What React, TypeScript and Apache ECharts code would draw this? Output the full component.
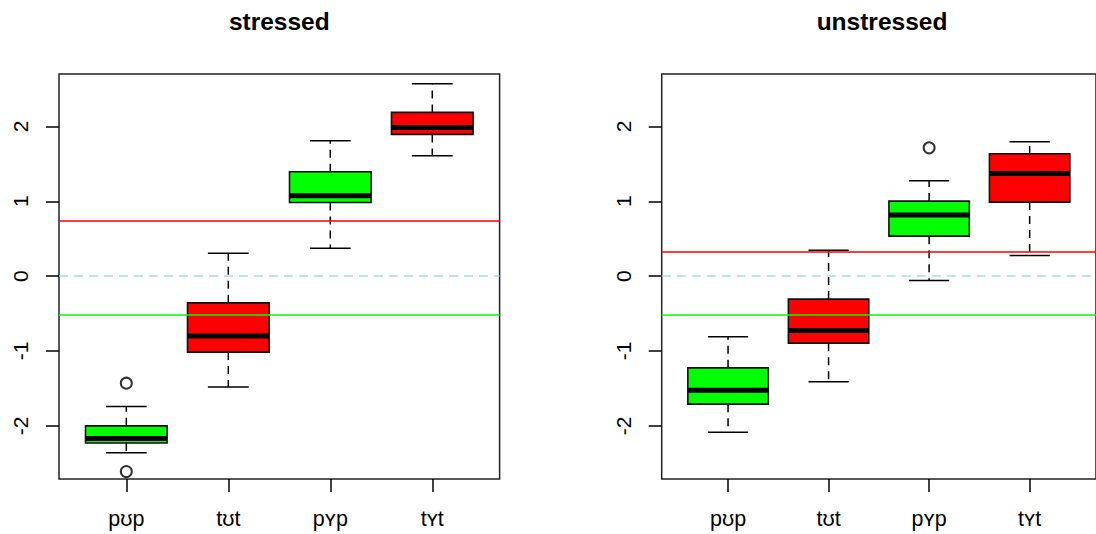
import React, { useEffect, useRef } from "react";
import * as echarts from "echarts";

const categories = ["pʊp", "tʊt", "pʏp", "tʏt"];
const boxColors = ["#00ff00", "#ff0000", "#00ff00", "#ff0000"];
const yTicks = [-2, -1, 0, 1, 2];

// [x, lowerWhisker, Q1, median, Q3, upperWhisker]
const stressedBoxes = [
  [1, -2.36, -2.23, -2.17, -2.0, -1.74],
  [2, -1.48, -1.015, -0.8, -0.357, 0.307],
  [3, 0.374, 0.984, 1.073, 1.394, 1.81],
  [4, 1.607, 1.893, 1.986, 2.187, 2.57],
];
const stressedOutliers = [
  [1, -1.43],
  [1, -2.61],
];
const stressedRed = 0.739;
const stressedGreen = -0.508;

const unstressedBoxes = [
  [1, -2.084, -1.71, -1.523, -1.225, -0.81],
  [2, -1.41, -0.895, -0.726, -0.307, 0.347],
  [3, -0.058, 0.534, 0.815, 1.002, 1.274],
  [4, 0.276, 0.989, 1.372, 1.634, 1.795],
];
const unstressedOutliers = [[3, 1.714]];
const unstressedRed = 0.32;
const unstressedGreen = -0.517;

const titles = ["stressed", "unstressed"];

const FONT = '"Liberation Sans", Arial, Helvetica, sans-serif';

function renderBox(params: any, api: any) {
  const x = api.value(0);
  const lo = api.value(1);
  const q1 = api.value(2);
  const med = api.value(3);
  const q3 = api.value(4);
  const hi = api.value(5);
  const pLo = api.coord([x, lo]);
  const pQ1 = api.coord([x, q1]);
  const pMed = api.coord([x, med]);
  const pQ3 = api.coord([x, q3]);
  const pHi = api.coord([x, hi]);
  const half = api.size([0.8, 0])[0] / 2;
  const capHalf = half / 2;
  const cx = pMed[0];
  const fill = boxColors[params.dataIndex];
  const dashed = { stroke: "#000", lineWidth: 1.5, lineDash: [8, 6] };
  const solid = { stroke: "#000", lineWidth: 1.5 };
  return {
    type: "group",
    children: [
      { type: "line", shape: { x1: cx, y1: pQ3[1], x2: cx, y2: pHi[1] }, style: dashed },
      { type: "line", shape: { x1: cx, y1: pQ1[1], x2: cx, y2: pLo[1] }, style: dashed },
      { type: "line", shape: { x1: cx - capHalf, y1: pHi[1], x2: cx + capHalf, y2: pHi[1] }, style: solid },
      { type: "line", shape: { x1: cx - capHalf, y1: pLo[1], x2: cx + capHalf, y2: pLo[1] }, style: solid },
      {
        type: "rect",
        shape: { x: cx - half, y: pQ3[1], width: half * 2, height: pQ1[1] - pQ3[1] },
        style: { fill, stroke: "#111", lineWidth: 1.6 },
      },
      { type: "line", shape: { x1: cx - half, y1: pMed[1], x2: cx + half, y2: pMed[1] }, style: { stroke: "#000", lineWidth: 5 } },
    ],
  };
}

const GRID_W = 440.6;
const GRID_LEFTS = [59, 661.7];

function buildOption() {
  const panels = [
    { boxes: stressedBoxes, outliers: stressedOutliers, red: stressedRed, green: stressedGreen },
    { boxes: unstressedBoxes, outliers: unstressedOutliers, red: unstressedRed, green: unstressedGreen },
  ];
  const grid = GRID_LEFTS.map((left) => ({
    left,
    top: 74,
    width: GRID_W,
    height: 405,
    show: true,
    borderColor: "#222",
    borderWidth: 1.5,
    backgroundColor: "transparent",
  }));
  const xAxis = panels.map((_, i) => ({
    type: "value",
    gridIndex: i,
    position: "bottom",
    min: 0.34,
    max: 4.66,
    axisLine: { show: false, onZero: false },
    splitLine: { show: false },
    axisTick: {
      show: true,
      customValues: [1, 2, 3, 4],
      length: 13,
      lineStyle: { color: "#000", width: 1.5 },
    },
    axisLabel: {
      customValues: [1, 2, 3, 4],
      formatter: (v: number) => categories[Math.round(v) - 1] ?? "",
      fontSize: 21.5,
      fontFamily: FONT,
      color: "#000",
      margin: 29,
    },
  }));
  const yAxis = panels.map((_, i) => ({
    type: "value",
    gridIndex: i,
    position: "left",
    min: -2.71,
    max: 2.7,
    axisLine: { show: false, onZero: false },
    splitLine: { show: false },
    axisTick: {
      show: true,
      customValues: yTicks,
      length: 13,
      lineStyle: { color: "#000", width: 1.5 },
    },
    axisLabel: {
      customValues: yTicks,
      rotate: 90,
      fontSize: 21,
      fontFamily: FONT,
      color: "#000",
      margin: 28,
    },
  }));
  const series: any[] = [];
  panels.forEach((p, i) => {
    series.push({
      type: "custom",
      xAxisIndex: i,
      yAxisIndex: i,
      renderItem: renderBox,
      encode: { x: 0, y: [1, 2, 3, 4, 5] },
      data: p.boxes,
      z: 2,
      silent: true,
    });
    series.push({
      type: "scatter",
      xAxisIndex: i,
      yAxisIndex: i,
      data: p.outliers,
      symbol: "emptyCircle",
      symbolSize: 11,
      itemStyle: { color: "#000", borderColor: "#000", borderWidth: 1.4 },
      z: 5,
      silent: true,
      markLine: {
        silent: true,
        symbol: ["none", "none"],
        label: { show: false },
        animation: false,
        data: [
          { yAxis: p.red, lineStyle: { color: "#ff0000", width: 1.5, type: "solid" } },
          { yAxis: p.green, lineStyle: { color: "#00ff00", width: 1.5, type: "solid" } },
          { yAxis: 0, lineStyle: { color: "#add8e6", width: 1.5, type: [9, 6] } },
        ],
      },
    });
  });
  const graphic = titles.map((t, i) => ({
    type: "text",
    x: GRID_LEFTS[i] + GRID_W / 2,
    y: 21,
    style: {
      text: t,
      font: `bold 24.5px ${FONT}`,
      fill: "#000",
      textAlign: "center",
      textVerticalAlign: "middle",
    },
  }));
  return {
    animation: false,
    backgroundColor: "#fff",
    grid,
    xAxis,
    yAxis,
    series,
    graphic,
  };
}

export default function App() {
  const ref = useRef<HTMLDivElement>(null);
  useEffect(() => {
    if (!ref.current) return;
    const chart = echarts.init(ref.current, undefined, { renderer: "svg" });
    chart.setOption(buildOption() as any);
    return () => chart.dispose();
  }, []);
  return (
    <div
      ref={ref}
      style={{ position: "fixed", left: 0, top: 0, width: 1096, height: 534, background: "#fff" }}
    />
  );
}
